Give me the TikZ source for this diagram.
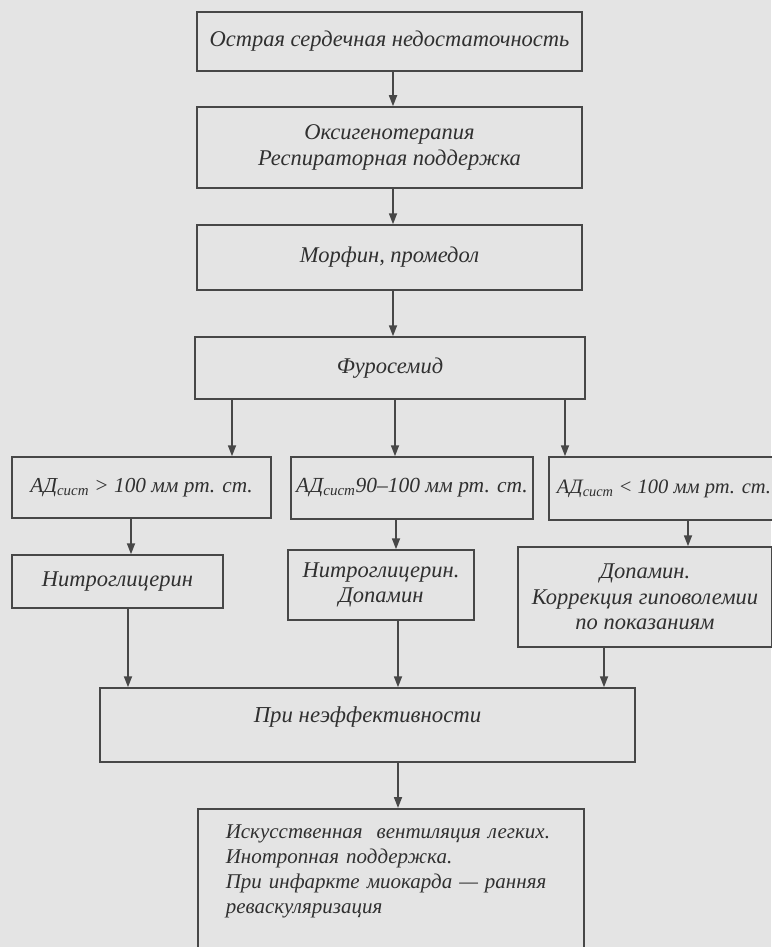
\documentclass[tikz,border=0pt]{standalone}
\usepackage{fontspec}
\setmainfont{Liberation Serif}
\usetikzlibrary{arrows.meta}

\definecolor{scan}{HTML}{E4E4E4}
\definecolor{ink}{HTML}{303030}
\definecolor{rule}{HTML}{474747}

\tikzset{
    box/.style={draw=rule, line width=1.5pt, fill=scan, text=ink, align=center,
        inner sep=0pt, font=\itshape\fontsize{22.5}{25.5}\selectfont},
    flow/.style={draw=rule, line width=1.7pt, -{Triangle[length=11pt,width=8pt]}}
}

\begin{document}
\begin{tikzpicture}[x=1pt,y=-1pt]

        \fill[scan] (0,0) rectangle (771,947);
        \useasboundingbox (0,0) rectangle (771,947);

        % main chain
        \node[box, minimum width=385, minimum height=59] (ahf) at (389.5,41.5)
            {Острая сердечная недостаточность};
        \node[box, minimum width=385, minimum height=81] (oxy) at (389.5,147.5)
            {Оксигенотерапия\\Респираторная поддержка};
        \node[box, minimum width=385, minimum height=65] (morph) at (389.5,257.5)
            {Морфин, промедол};
        \node[box, minimum width=390, minimum height=62] (furo) at (390,368)
            {Фуросемид};

        % blood pressure branches
        \node[box, font=\itshape\fontsize{21.3}{25}\selectfont,
            minimum width=259, minimum height=61] (sbpA) at (141.5,487.5)
            {АД\textsubscript{сист} > 100 мм рт. ст.};
        \node[box, font=\itshape\fontsize{21.5}{25}\selectfont,
            minimum width=242, minimum height=62] (sbpB) at (412,488)
            {АД\textsubscript{сист}90–100 мм рт. ст.};
        \node[box, font=\itshape\fontsize{20.5}{25}\selectfont,
            minimum width=230, minimum height=63] (sbpC) at (664,488.5)
            {АД\textsubscript{сист} < 100 мм рт. ст.};

        \node[box, minimum width=211, minimum height=53] (nitro) at (117.5,581.5)
            {Нитроглицерин};
        \node[box, minimum width=186, minimum height=70] (nitrodopa) at (381,585)
            {Нитроглицерин.\\Допамин};
        \node[box, minimum width=254, minimum height=100] (dopa) at (645,597)
            {Допамин.\\Коррекция гиповолемии\\по показаниям};

        \node[box, font=\itshape\fontsize{22.8}{25}\selectfont,
            minimum width=535, text height=34pt, text depth=40pt] (ineff) at (367.5,725)
            {При неэффективности};
        \node[box, font=\itshape\fontsize{21}{25}\selectfont,
            anchor=north west, text width=330pt, align=left, inner xsep=28pt,
            text height=30pt, text depth=160pt] (ivl) at (197,808)
            {Искусственная\ \ вентиляция легких.\\Инотропная поддержка.\\При инфаркте миокарда~— ранняя\\реваскуляризация};

        \foreach \src/\dst/\x in {
            ahf/oxy/393, oxy/morph/393, morph/furo/393,
            furo/sbpA/232, furo/sbpB/395, furo/sbpC/565,
            sbpA/nitro/131, sbpB/nitrodopa/396, sbpC/dopa/688,
            nitro/ineff/128, nitrodopa/ineff/398, dopa/ineff/604,
            ineff/ivl/398} {
        \coordinate (col) at (\x,0);
        \draw[flow] (\src.south -| col) -- (\dst.north -| col);
        }

\end{tikzpicture}
\end{document}
